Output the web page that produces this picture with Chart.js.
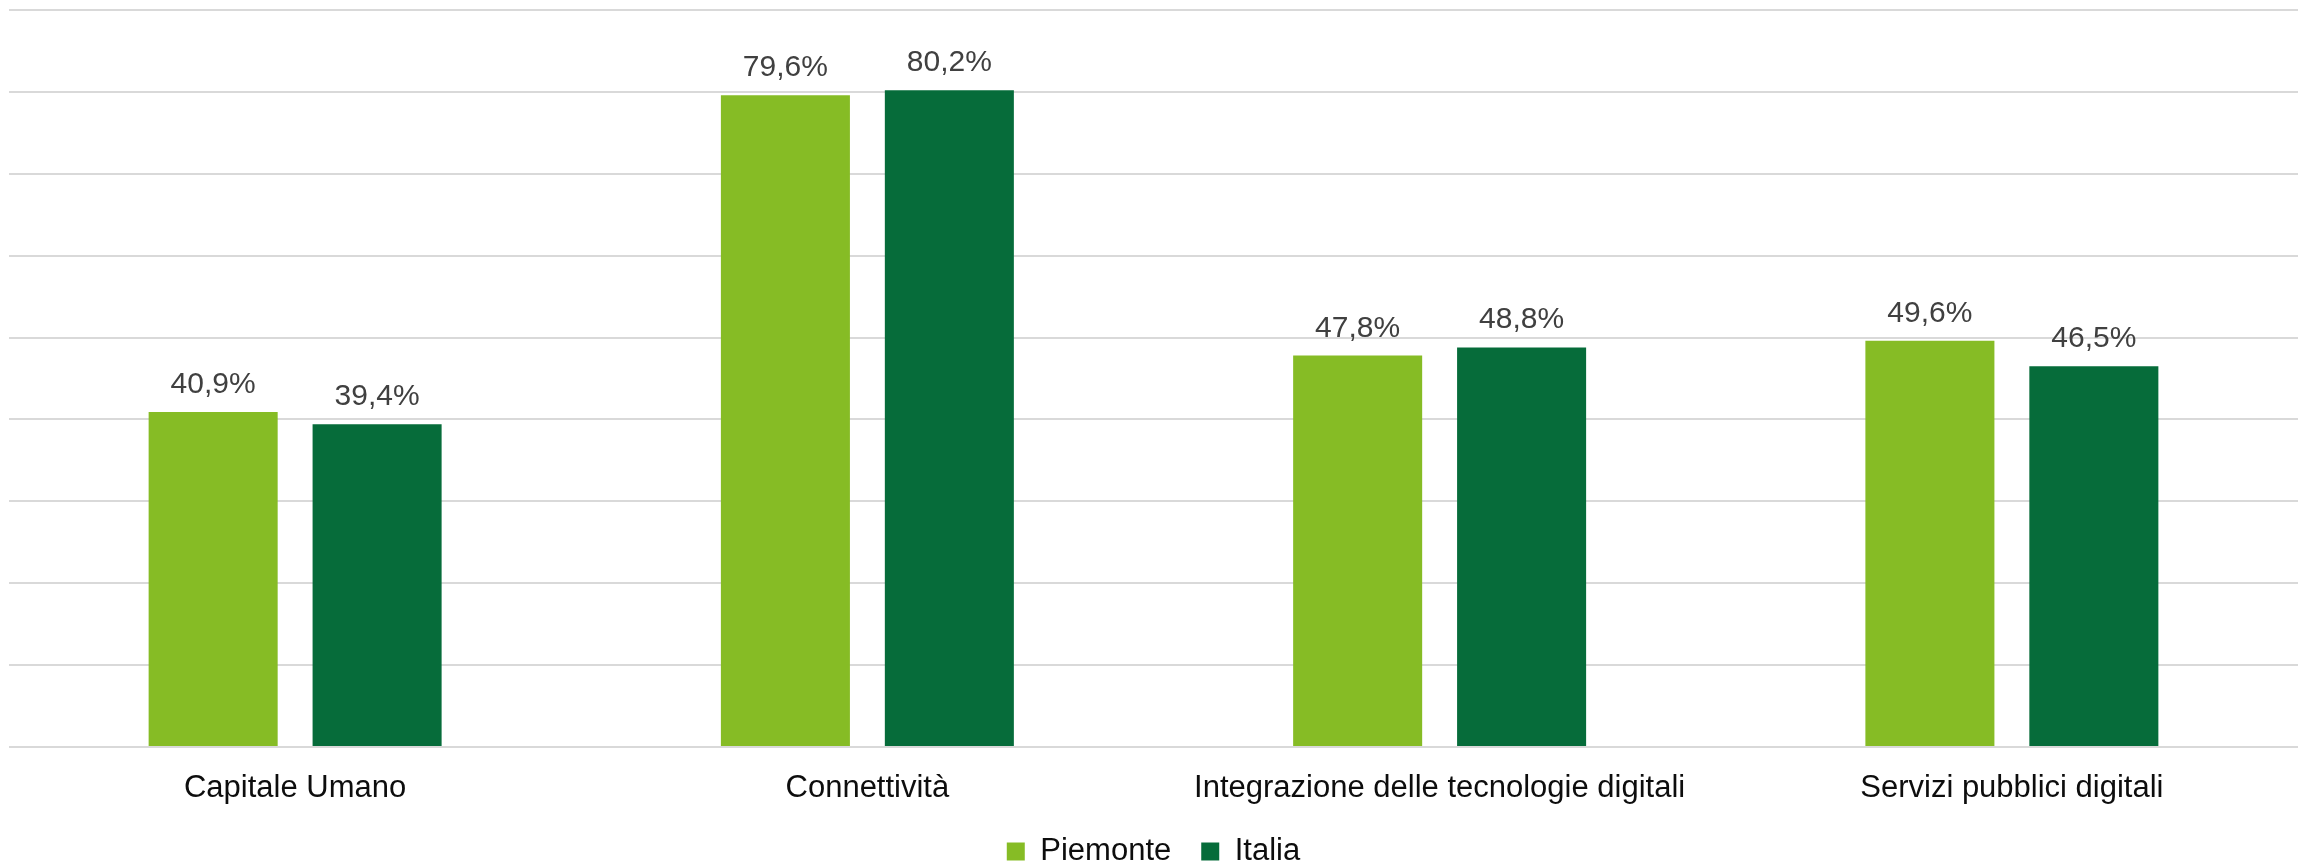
<!DOCTYPE html>
<html>
<head>
<meta charset="utf-8">
<script src="https://cdn.jsdelivr.net/npm/chart.js@4.4.1/dist/chart.umd.min.js"></script>
<style>
html,body{margin:0;padding:0;background:#fff;}
#wrap{width:2298px;height:862px;position:relative;}
</style>
</head>
<body>
<div id="wrap"><canvas id="c" width="2298" height="862"></canvas></div>
<script>
const categories = ["Capitale Umano", "Connettività", "Integrazione delle tecnologie digitali", "Servizi pubblici digitali"];
const piemonte = [40.9, 79.6, 47.8, 49.6];
const italia = [39.4, 80.2, 48.8, 46.5];
const seriesNames = ["Piemonte", "Italia"];
const yMin = 0, yMax = 90, yStep = 10;

const fmt = v => v.toFixed(1).replace('.', ',') + '%';

const labelPlugin = {
  id: 'valueLabels',
  afterDatasetsDraw(chart) {
    const ctx = chart.ctx;
    ctx.save();
    ctx.font = '30px "Liberation Sans", Arial, sans-serif';
    ctx.fillStyle = '#404040';
    ctx.textAlign = 'center';
    ctx.textBaseline = 'alphabetic';
    chart.data.datasets.forEach((ds, di) => {
      const meta = chart.getDatasetMeta(di);
      meta.data.forEach((bar, i) => {
        ctx.fillText(fmt(ds.data[i]), bar.x, bar.y - 19);
      });
    });
    ctx.restore();
  }
};

new Chart(document.getElementById('c'), {
  type: 'bar',
  data: {
    labels: categories,
    datasets: [
      { label: seriesNames[0], data: piemonte, backgroundColor: '#86bc25', categoryPercentage: 0.573, barPercentage: 0.787 },
      { label: seriesNames[1], data: italia, backgroundColor: '#066c3a', categoryPercentage: 0.573, barPercentage: 0.787 }
    ]
  },
  options: {
    responsive: false,
    animation: false,
    devicePixelRatio: 1,
    layout: { padding: { left: 9, right: 0, top: 10, bottom: -15 } },
    plugins: {
      tooltip: { enabled: false },
      legend: {
        position: 'bottom',
        labels: {
          boxWidth: 18, boxHeight: 18, padding: 30,
          font: { family: '"Liberation Sans", Arial, sans-serif', size: 31 },
          color: '#0d0d0d'
        }
      }
    },
    scales: {
      x: {
        grid: { display: false, drawTicks: false },
        border: { display: false },
        ticks: {
          padding: 23,
          maxRotation: 0,
          autoSkip: false,
          font: { family: '"Liberation Sans", Arial, sans-serif', size: 31 },
          color: '#0d0d0d'
        },
        afterFit(axis) { axis.height = 59; }
      },
      y: {
        min: yMin, max: yMax,
        ticks: { display: false, stepSize: yStep },
        grid: { color: '#d9d9d9', lineWidth: 2, drawTicks: false },
        border: { display: false }
      }
    }
  },
  plugins: [labelPlugin]
});
</script>
</body>
</html>
